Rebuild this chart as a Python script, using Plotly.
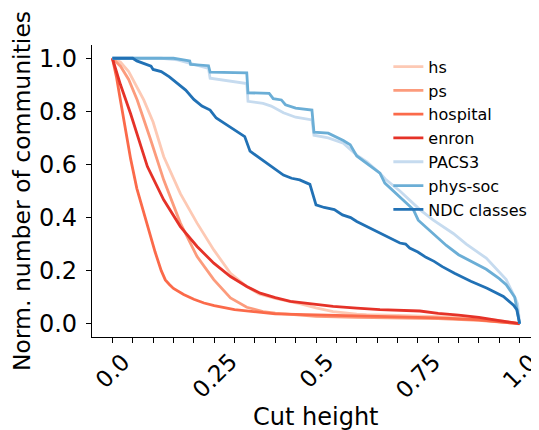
import plotly.graph_objects as go

# ---------------- data ----------------
hs_x = [0.0, 0.02, 0.04, 0.077, 0.1, 0.126, 0.167, 0.208, 0.249, 0.29, 0.33, 0.36, 0.4, 0.46,
        0.5, 0.542, 0.6, 0.624, 0.7, 0.8, 0.9, 0.95, 1.0]
hs_y = [1.0, 0.985, 0.95, 0.843, 0.76, 0.63, 0.49, 0.379, 0.278, 0.19, 0.14, 0.112, 0.095, 0.076,
        0.06, 0.046, 0.036, 0.034, 0.031, 0.027, 0.02, 0.012, 0.0]

ps_x = [0.0, 0.02, 0.04, 0.061, 0.094, 0.126, 0.167, 0.208, 0.249, 0.29, 0.33, 0.37, 0.4, 0.45,
        0.5, 0.6, 0.7, 0.8, 0.9, 1.0]
ps_y = [1.0, 0.97, 0.92, 0.843, 0.693, 0.542, 0.379, 0.253, 0.166, 0.097, 0.062, 0.046, 0.04, 0.033,
        0.028, 0.024, 0.022, 0.019, 0.013, 0.0]

hospital_x = [0.0, 0.01, 0.02, 0.03, 0.045, 0.06, 0.075, 0.09, 0.105, 0.12, 0.13, 0.14, 0.15,
              0.175, 0.2, 0.225, 0.25, 0.3, 0.35, 0.4, 0.5, 0.6, 0.7, 0.8, 0.9, 1.0]
hospital_y = [1.0, 0.93, 0.84, 0.75, 0.62, 0.51, 0.43, 0.34, 0.27, 0.2, 0.165, 0.148, 0.133,
              0.11, 0.092, 0.078, 0.068, 0.053, 0.044, 0.037, 0.033, 0.03, 0.027, 0.022, 0.015, 0.0]

enron_x = [0.0, 0.02, 0.045, 0.065, 0.086, 0.126, 0.167, 0.208, 0.249, 0.29, 0.33, 0.363, 0.4,
           0.437, 0.5, 0.542, 0.6, 0.657, 0.755, 0.8, 0.85, 0.9, 0.95, 1.0]
enron_y = [1.0, 0.9, 0.79, 0.69, 0.592, 0.467, 0.366, 0.291, 0.228, 0.178, 0.14, 0.115, 0.098,
           0.084, 0.072, 0.065, 0.059, 0.053, 0.048, 0.039, 0.032, 0.024, 0.012, 0.0]

pacs3_x = [0.0, 0.12, 0.16, 0.19, 0.236, 0.24, 0.29, 0.33, 0.333, 0.37, 0.39, 0.42, 0.45, 0.49,
           0.495, 0.53, 0.567, 0.6, 0.625, 0.657, 0.67, 0.706, 0.755, 0.788, 0.837, 0.869, 0.918,
           0.967, 0.988, 0.995, 1.0]
pacs3_y = [1.0, 1.0, 0.994, 0.982, 0.962, 0.925, 0.915, 0.905, 0.838, 0.83, 0.82, 0.795, 0.778,
           0.768, 0.71, 0.7, 0.68, 0.635, 0.61, 0.567, 0.545, 0.5, 0.43, 0.39, 0.34, 0.30, 0.247,
           0.166, 0.10, 0.075, 0.0]

physsoc_x = [0.0, 0.15, 0.19, 0.192, 0.236, 0.24, 0.33, 0.333, 0.385, 0.395, 0.415, 0.425, 0.45,
             0.49, 0.495, 0.53, 0.567, 0.584, 0.6, 0.625, 0.657, 0.669, 0.706, 0.739, 0.751, 0.788,
             0.82, 0.85, 0.88, 0.918, 0.95, 0.967, 0.988, 0.993, 1.0]
physsoc_y = [1.0, 1.0, 0.99, 0.977, 0.972, 0.948, 0.945, 0.87, 0.868, 0.848, 0.843, 0.825, 0.812,
             0.805, 0.722, 0.718, 0.69, 0.674, 0.632, 0.605, 0.567, 0.53, 0.479, 0.43, 0.39, 0.34,
             0.295, 0.26, 0.235, 0.205, 0.17, 0.147, 0.1, 0.06, 0.0]

ndc_x = [0.0, 0.05, 0.06, 0.08, 0.095, 0.1, 0.12, 0.14, 0.16, 0.18, 0.2, 0.22, 0.24, 0.255, 0.28,
         0.3, 0.325, 0.338, 0.36, 0.38, 0.4, 0.42, 0.44, 0.46, 0.485, 0.5, 0.52, 0.545, 0.565,
         0.585, 0.6, 0.625, 0.645, 0.665, 0.685, 0.706, 0.72, 0.73, 0.75, 0.77, 0.79, 0.81, 0.84,
         0.88, 0.92, 0.96, 0.985, 0.993, 1.0]
ndc_y = [1.0, 1.0, 0.99, 0.98, 0.97, 0.958, 0.95, 0.93, 0.906, 0.88, 0.845, 0.82, 0.805, 0.775,
         0.75, 0.73, 0.705, 0.65, 0.626, 0.605, 0.583, 0.56, 0.548, 0.542, 0.525, 0.448, 0.438,
         0.43, 0.41, 0.4, 0.385, 0.366, 0.35, 0.335, 0.32, 0.304, 0.3, 0.285, 0.27, 0.25, 0.235,
         0.215, 0.19, 0.16, 0.134, 0.103, 0.07, 0.053, 0.0]

series_names = ["hs", "ps", "hospital", "enron", "PACS3", "phys-soc", "NDC classes"]
series_x = [hs_x, ps_x, hospital_x, enron_x, pacs3_x, physsoc_x, ndc_x]
series_y = [hs_y, ps_y, hospital_y, enron_y, pacs3_y, physsoc_y, ndc_y]
series_colors = ["#fdc9b4", "#fc9b7c", "#fb6a4a", "#e53228", "#c6dbef", "#6baed6", "#2171b5"]

x_minor_ticks = [i / 20 for i in range(21)]
x_tick_vals = [0.0, 0.25, 0.5, 0.75, 1.0]
x_tick_labels = ["0.0", "0.25", "0.5", "0.75", "1.0"]
y_tick_vals = [0.0, 0.2, 0.4, 0.6, 0.8, 1.0]
y_tick_labels = ["0.0", "0.2", "0.4", "0.6", "0.8", "1.0"]
x_title = "Cut height"
y_title = "Norm. number of communities"

FONT = "DejaVu Sans"

fig = go.Figure()
for name, xs, ys, col in zip(series_names, series_x, series_y, series_colors):
    fig.add_trace(go.Scatter(x=xs, y=ys, mode="lines", name=name,
                             line=dict(color=col, width=2.8)))

for v, t in zip(x_tick_vals, x_tick_labels):
    fig.add_annotation(x=v, xref="x", y=-0.034, yref="paper", text=t, textangle=-45,
                       showarrow=False, xanchor="center", yanchor="top", borderpad=0,
                       font=dict(family=FONT, size=23, color="black"))

fig.add_annotation(x=0.5, xref="paper", y=-0.274, yref="paper", text=x_title,
                   showarrow=False, xanchor="center", yanchor="middle",
                   font=dict(family=FONT, size=24, color="black"))

fig.update_layout(
    width=531, height=422,
    margin=dict(l=84, r=0, t=37, b=93, autoexpand=False),
    paper_bgcolor="white", plot_bgcolor="white",
    font=dict(family=FONT, color="black"),
    showlegend=True,
    legend=dict(x=0.663, y=0.984, xanchor="left", yanchor="top",
                bgcolor="rgba(0,0,0,0)", font=dict(family=FONT, size=16),
                tracegroupgap=0),
    xaxis=dict(range=[-0.05, 1.0475], tickvals=x_minor_ticks, showticklabels=False,
               ticks="outside", ticklen=5, tickwidth=1.1, tickcolor="black",
               showline=True, linecolor="black", linewidth=1.1, showgrid=False,
               zeroline=False, automargin=False),
    yaxis=dict(range=[-0.05, 1.05], tickvals=y_tick_vals, ticktext=y_tick_labels,
               ticks="outside", ticklen=5, tickwidth=1.1, tickcolor="black",
               tickfont=dict(family=FONT, size=24), ticklabelstandoff=4,
               showline=True, linecolor="black", linewidth=1.1, showgrid=False,
               zeroline=False, automargin=False,
               title=dict(text=y_title, font=dict(family=FONT, size=23.5), standoff=3)),
)

fig.write_html("out.html")
